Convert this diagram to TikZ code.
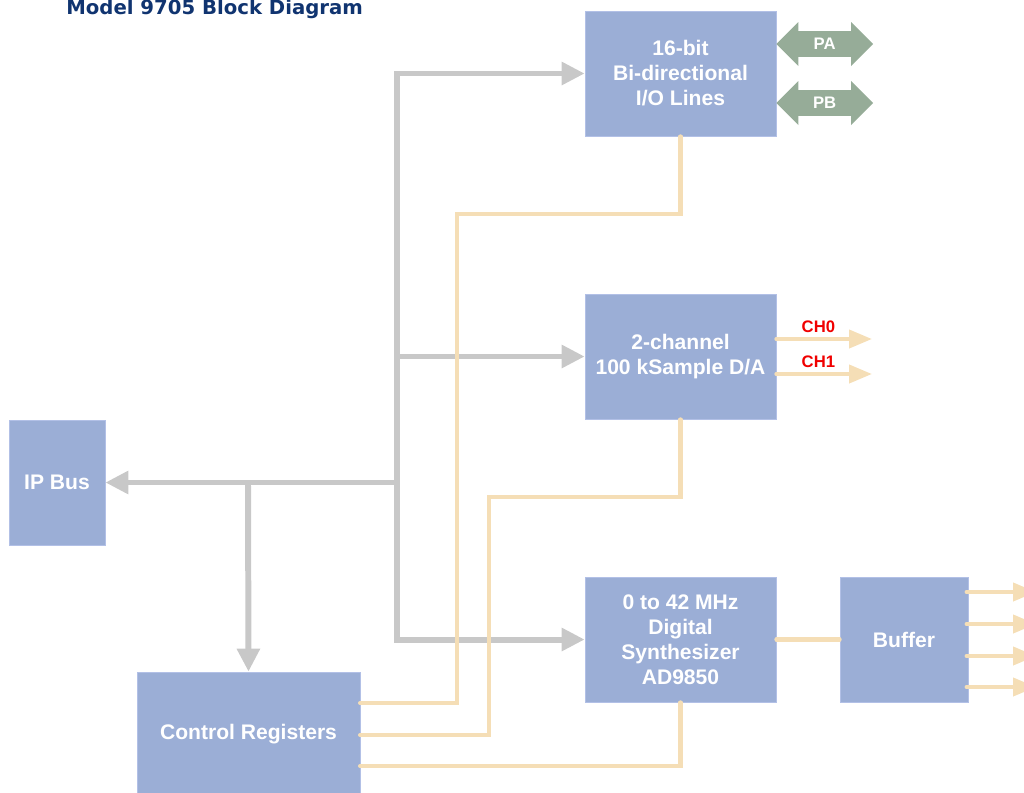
\documentclass[tikz,border=0pt]{standalone}
\usepackage{fontspec}
\setmainfont{Liberation Sans}
\newfontfamily\titlefont{DejaVu Sans}
\usetikzlibrary{arrows.meta,positioning,calc}
\definecolor{blkFill}{RGB}{155,174,214}
\definecolor{blkEdge}{RGB}{178,192,230}
\definecolor{busGray}{RGB}{200,200,200}
\definecolor{sigTan}{RGB}{245,222,182}
\definecolor{portGreen}{RGB}{150,172,152}
\definecolor{titleBlue}{RGB}{16,52,112}
\definecolor{chRed}{RGB}{240,0,0}

\begin{document}
\begin{tikzpicture}[
    x=0.02cm, y=-0.02cm,
    every node/.style={font=\bfseries\fontsize{12}{14.2}\selectfont},
    blk/.style={rectangle, draw=blkEdge, fill=blkFill, text=white, align=center, minimum width=3.82cm, minimum height=2.5cm, inner sep=0pt},
    bus/.style={draw=busGray, line width=3.4pt},
    busarrow/.style={bus, -{Triangle[length=0.46cm,width=0.44cm]}},
    sig/.style={draw=sigTan, line width=2.3pt, line cap=round},
    sigarrow/.style={sig, -{Triangle[length=0.46cm,width=0.36cm]}},
    port/.style={draw=portGreen, line width=0.52cm, {Triangle[length=0.44cm,width=0.88cm,line width=0pt]}-{Triangle[length=0.44cm,width=0.88cm,line width=0pt]}},
    portlabel/.style={text=white, font=\bfseries\fontsize{9.5}{11}\selectfont},
    chlabel/.style={text=chRed, font=\bfseries\fontsize{9.5}{11}\selectfont, above, inner sep=2.5pt}
]
\useasboundingbox (0,0) rectangle (1024,792);
\node[anchor=base west, inner sep=0pt, text=titleBlue, font=\titlefont\bfseries\fontsize{11.2}{13}\selectfont] (ttl) at (66,14.5) {Model 9705 Block Diagram};

% blocks
\node[blk] (io) at (680.5,73.5) {16-bit\\Bi-directional\\I/O Lines};
\node[blk] (da) at (680.5,356.5) {2-channel\\100 kSample D/A};
\node[blk] (syn) at (680.5,639.5) {0 to 42 MHz\\Digital\\Synthesizer\\AD9850};
\node[blk, minimum width=2.56cm] (buf) at (904,639.5) {Buffer};
\node[blk, minimum width=1.92cm] (ipbus) at (57,482.5) {IP Bus};
\node[blk, minimum width=4.46cm] (ctl) at (248.5,734.5) {Control Registers};

% internal bus
\coordinate (b1) at (397,73.5);
\coordinate (b2) at (397,356.5);
\coordinate (b3) at (397,482.5);
\coordinate (b4) at (397,639.5);
\coordinate (b5) at (248,482.5);
\draw[bus, line cap=rect] (b1) -- (b4);
\draw[busarrow] (b1) -- (io.west);
\draw[busarrow] (b2) -- (da.west);
\draw[busarrow] (b4) -- (syn.west);
\draw[busarrow] (b3) -- (ipbus.east);
\draw[busarrow] (b5) -- (ctl.north);

% control lines
\coordinate (k1) at (457,214);
\coordinate (k2) at (489,497);
\foreach \n/\y in {1/703,2/735,3/766} \coordinate (c\n) at (360,\y);
\draw[sig] (io.south) |- (k1) |- (c1);
\draw[sig] (da.south) |- (k2) |- (c2);
\draw[sig] (syn.south) |- (c3);
\draw[sig] (syn.east) -- (buf.west);

% outputs
\coordinate (ch0) at (872,339);
\coordinate (ch1) at (872,374);
\draw[sigarrow] (da.east |- ch0) -- (ch0) node[chlabel, pos=0.44] {CH0};
\draw[sigarrow] (da.east |- ch1) -- (ch1) node[chlabel, pos=0.44] {CH1};
\foreach \y in {592,624,656,687} {
  \coordinate (o\y) at (1036,\y);
  \draw[sigarrow] ([xshift=-1pt]buf.east |- o\y) -- (o\y);
}

% ports
\coordinate (pa) at (873,44);
\coordinate (pb) at (873,103);
\draw[port] (io.east |- pa) -- (pa) node[portlabel, midway] {PA};
\draw[port] (io.east |- pb) -- (pb) node[portlabel, midway] {PB};
\end{tikzpicture}
\end{document}
